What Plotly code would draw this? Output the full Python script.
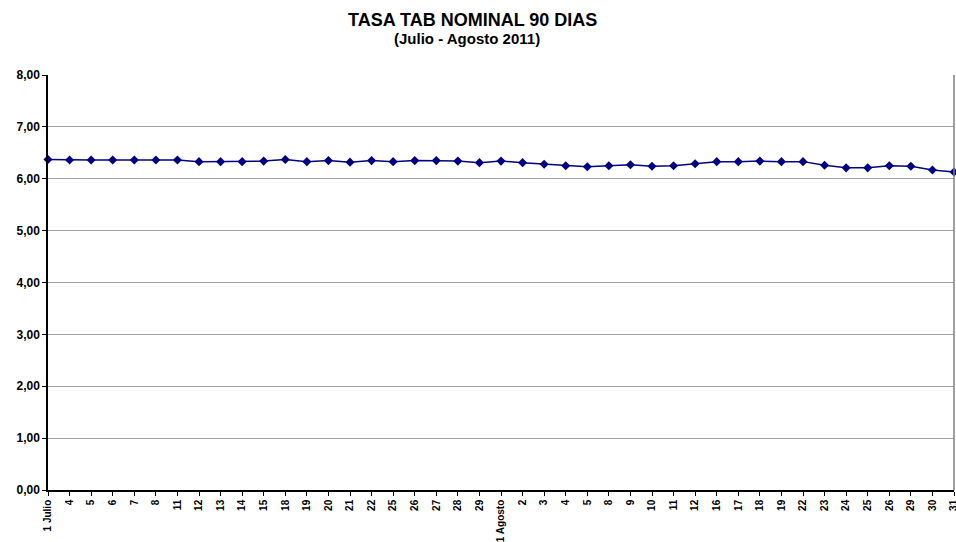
import plotly.graph_objects as go

labels = ["1 Julio", "4", "5", "6", "7", "8", "11", "12", "13", "14", "15", "18", "19", "20",
          "21", "22", "25", "26", "27", "28", "29", "1 Agosto", "2", "3", "4", "5", "8", "9",
          "10", "11", "12", "16", "17", "18", "19", "22", "23", "24", "25", "26", "29", "30", "31"]
tasa = [6.37, 6.36, 6.36, 6.36, 6.36, 6.36, 6.36, 6.33, 6.33, 6.33, 6.34, 6.37, 6.33, 6.35,
        6.32, 6.35, 6.33, 6.35, 6.35, 6.34, 6.31, 6.34, 6.31, 6.28, 6.25, 6.23, 6.25, 6.27,
        6.24, 6.25, 6.29, 6.33, 6.33, 6.34, 6.33, 6.33, 6.26, 6.21, 6.21, 6.25, 6.24, 6.17, 6.13]
y_ticks = [0, 1, 2, 3, 4, 5, 6, 7, 8]

idx = list(range(len(labels)))

fig = go.Figure()
fig.add_trace(go.Scatter(
    x=idx, y=tasa, mode="lines+markers",
    line=dict(color="#000080", width=1.5),
    marker=dict(symbol="diamond", size=7, color="#000080"),
    showlegend=False, cliponaxis=False,
))

fig.update_layout(
    width=956, height=542,
    margin=dict(l=48, r=2, t=75, b=52, autoexpand=False),
    paper_bgcolor="white", plot_bgcolor="white",
    font=dict(family="Liberation Sans, Arial", color="black"),
)
fig.add_annotation(text="<b>TASA TAB NOMINAL 90 DIAS</b>", xref="paper", yref="paper",
                   x=0.469, y=1.0, yshift=55, showarrow=False, font=dict(size=18),
                   xanchor="center", yanchor="middle")
fig.add_annotation(text="<b>(Julio - Agosto 2011)</b>", xref="paper", yref="paper",
                   x=0.462, y=1.0, yshift=37, showarrow=False, font=dict(size=15),
                   xanchor="center", yanchor="middle")

fig.update_xaxes(
    range=[0, len(labels) - 1], tickmode="array", tickvals=idx,
    ticktext=["<b>%s</b>" % t for t in labels], tickangle=-90, automargin=False,
    ticklabeloverflow="allow",
    tickfont=dict(size=10), showgrid=False, showline=True, linecolor="black",
    linewidth=1.5, ticks="outside", ticklen=4, tickcolor="black", zeroline=False,
)
fig.update_yaxes(
    range=[0, 8], tickmode="array", tickvals=y_ticks, automargin=False,
    ticktext=["<b>%s</b>" % ("%.2f" % v).replace(".", ",") for v in y_ticks],
    tickfont=dict(size=12), showgrid=True, gridcolor="#a0a0a0", gridwidth=1,
    showline=True, linecolor="black", linewidth=1.5, ticks="outside", ticklen=4,
    tickcolor="black", zeroline=False,
)
fig.add_shape(type="line", xref="paper", yref="paper", x0=1, x1=1, y0=0, y1=1,
              line=dict(color="#808080", width=1.5))

fig.write_html("out.html", config={"displayModeBar": False},
               post_script="document.body.style.margin='0';document.body.style.padding='0';")
